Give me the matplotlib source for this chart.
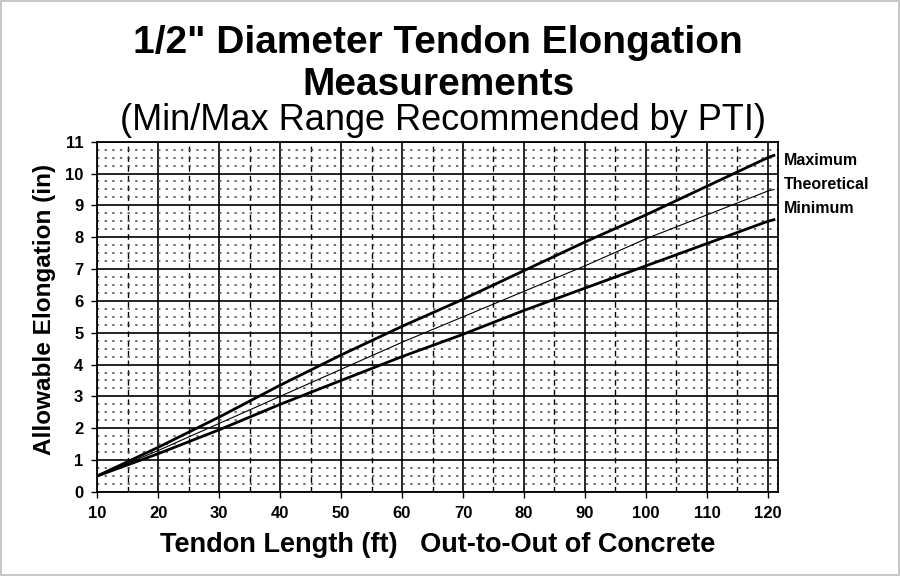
import numpy as np
import matplotlib
matplotlib.use("Agg")
import matplotlib.pyplot as plt

plt.rcParams['font.family'] = ['Liberation Sans', 'DejaVu Sans']

# tendon length (ft) and allowable elongation (in)
length_ft = [10, 20, 30, 40, 50, 60, 70, 80, 90, 100, 110, 120, 121]
maximum = [0.5, 1.4, 2.35, 3.35, 4.3, 5.2, 6.05, 6.95, 7.85, 8.7, 9.6, 10.5, 10.57]
theoretical = [0.5, 1.3, 2.15, 3.0, 3.85, 4.7, 5.5, 6.3, 7.1, 7.95, 8.7, 9.45, 9.5]
minimum = [0.5, 1.2, 1.95, 2.75, 3.5, 4.25, 4.95, 5.7, 6.4, 7.1, 7.8, 8.5, 8.55]

series_names = ["Maximum", "Theoretical", "Minimum"]
label_y = [10.4, 9.65, 8.9]

x_ticks = list(range(10, 121, 10))
y_ticks = list(range(0, 12))

fig = plt.figure(figsize=(9, 5.76), dpi=100)
fig.patch.set_edgecolor("#c8c8c8")
fig.patch.set_linewidth(1.5)

ax = fig.add_axes([0.108, 0.146, 0.756, 0.608])
ax.set_xlim(10, 121.6)
ax.set_ylim(0, 11)

# grid: solid majors, dashed half-decades in x, dotted quarter-inches in y
ax.set_xticks(x_ticks)
ax.set_yticks(y_ticks)
for xv in x_ticks:
    ax.axvline(xv, color="black", lw=1.2, zorder=1)
for xv in np.arange(15, 121, 10):
    ax.axvline(xv, color="black", lw=1.0, ls=(0, (4, 3)), zorder=1)
for yv in y_ticks:
    ax.axhline(yv, color="black", lw=1.2, zorder=1)
for yv in np.arange(0, 11, 0.25):
    if yv % 1 != 0:
        ax.axhline(yv, color="#444444", lw=1.1, ls=(0, (1.5, 3.5)), zorder=1)

ax.plot(length_ft, maximum, color="black", lw=2.0, zorder=3)
ax.plot(length_ft, theoretical, color="black", lw=0.8, zorder=3)
ax.plot(length_ft, minimum, color="black", lw=2.0, zorder=3)

for name, yv in zip(series_names, label_y):
    ax.text(122.7, yv, name, fontsize=11.5, fontweight="bold",
            ha="left", va="center", clip_on=False)

for s in ax.spines.values():
    s.set_linewidth(1.3)

ax.tick_params(axis="both", direction="out", length=4, width=1.0,
               labelsize=12, pad=6)
for lab in ax.get_xticklabels() + ax.get_yticklabels():
    lab.set_fontweight("bold")

ax.set_ylabel("Allowable Elongation (in)", fontsize=17.5, fontweight="bold")
ax.yaxis.set_label_coords(-0.06, 0.52)
ax.set_xlabel("Tendon Length (ft)   Out-to-Out of Concrete", fontsize=19.5,
              fontweight="bold", labelpad=8)

fig.text(0.487, 0.925, "1/2\" Diameter Tendon Elongation", ha="center", va="center",
         fontsize=28, fontweight="bold")
fig.text(0.487, 0.853, "Measurements", ha="center", va="center",
         fontsize=28, fontweight="bold")
fig.text(0.492, 0.79, "(Min/Max Range Recommended by PTI)", ha="center", va="center",
         fontsize=26)

fig.savefig("out.png", dpi=100)
